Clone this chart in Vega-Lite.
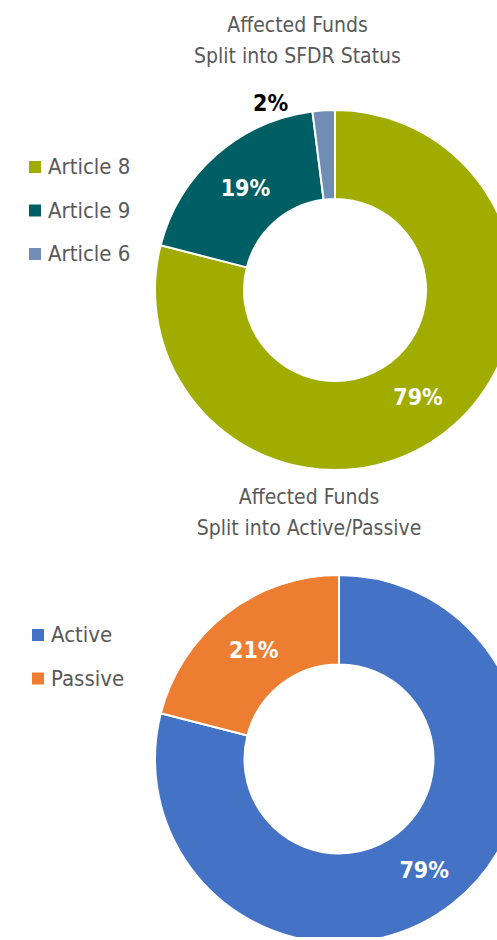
{
  "$schema": "https://vega.github.io/schema/vega-lite/v6.json",
  "background": "#ffffff",
  "padding": {"left": 0, "top": 15, "right": 0, "bottom": 0},
  "spacing": 16,
  "config": {
    "view": {"stroke": null},
    "font": "DejaVu Sans Condensed, sans-serif"
  },
  "resolve": {
    "scale": {"color": "independent", "theta": "independent"},
    "legend": {"color": "independent"}
  },
  "vconcat": [
    {
      "width": 497,
      "height": 400,
      "title": {
        "text": ["Affected Funds", "Split into SFDR Status"],
        "fontSize": 21,
        "lineHeight": 31,
        "font": "DejaVu Sans Condensed, sans-serif",
        "fontWeight": "normal",
        "color": "#595959",
        "anchor": "middle",
        "dx": 49,
        "offset": 4
      },
      "data": {
        "values": [
          {"status": "Article 8", "share": 79, "rank": 1, "label": "79%"},
          {"status": "Article 9", "share": 19, "rank": 2, "label": "19%"},
          {"status": "Article 6", "share": 2, "rank": 3, "label": "2%"}
        ]
      },
      "encoding": {
        "theta": {"field": "share", "type": "quantitative", "stack": true},
        "order": {"field": "rank", "type": "quantitative", "sort": "ascending"}
      },
      "layer": [
        {
          "mark": {"type": "arc", "innerRadius": 91, "outerRadius": 180, "stroke": "#ffffff", "strokeWidth": 2, "xOffset": 86.5, "yOffset": 19, "clip": true},
          "encoding": {
            "color": {
              "field": "status",
              "type": "nominal",
              "scale": {"domain": ["Article 8", "Article 9", "Article 6"], "range": ["#A0AC00", "#005F65", "#708EB3"]},
              "legend": {
                "orient": "none",
                "legendX": 24,
                "legendY": 85,
                "title": null,
                "symbolType": "square",
                "symbolSize": 144,
                "symbolStrokeWidth": 0,
                "labelFontSize": 22,
                "labelFont": "DejaVu Sans Condensed, sans-serif",
                "labelColor": "#595959",
                "labelOffset": 2,
                "rowPadding": 21.5
              }
            }
          }
        },
        {
          "mark": {"type": "text", "radius": 135.5, "xOffset": 86.5, "yOffset": 19, "dy": 1, "fontSize": 23, "fontWeight": "bold", "color": "#ffffff"},
          "encoding": {
            "text": {"condition": {"test": "datum.status === 'Article 6'", "value": ""}, "field": "label", "type": "nominal"}
          }
        },
        {
          "mark": {"type": "text", "radius": 197, "xOffset": 86.5, "yOffset": 19, "dx": -52, "dy": 11, "fontSize": 23, "fontWeight": "bold", "color": "#000000"},
          "encoding": {
            "text": {"condition": {"test": "datum.status === 'Article 6'", "field": "label", "type": "nominal"}, "value": ""}
          }
        }
      ]
    },
    {
      "width": 497,
      "height": 394,
      "title": {
        "text": ["Affected Funds", "Split into Active/Passive"],
        "fontSize": 21,
        "lineHeight": 31,
        "font": "DejaVu Sans Condensed, sans-serif",
        "fontWeight": "normal",
        "color": "#595959",
        "anchor": "middle",
        "dx": 60.5,
        "offset": 4
      },
      "data": {
        "values": [
          {"style": "Active", "share": 79, "rank": 1, "label": "79%"},
          {"style": "Passive", "share": 21, "rank": 2, "label": "21%"}
        ]
      },
      "encoding": {
        "theta": {"field": "share", "type": "quantitative", "stack": true},
        "order": {"field": "rank", "type": "quantitative", "sort": "ascending"}
      },
      "layer": [
        {
          "mark": {"type": "arc", "innerRadius": 94.5, "outerRadius": 184, "stroke": "#ffffff", "strokeWidth": 2, "xOffset": 90.5, "yOffset": 19, "clip": true},
          "encoding": {
            "color": {
              "field": "style",
              "type": "nominal",
              "scale": {"domain": ["Active", "Passive"], "range": ["#4472C4", "#ED7D31"]},
              "legend": {
                "orient": "none",
                "legendX": 27,
                "legendY": 81,
                "title": null,
                "symbolType": "square",
                "symbolSize": 144,
                "symbolStrokeWidth": 0,
                "labelFontSize": 22,
                "labelFont": "DejaVu Sans Condensed, sans-serif",
                "labelColor": "#595959",
                "labelOffset": 2,
                "rowPadding": 21.5
              }
            }
          }
        },
        {
          "mark": {"type": "text", "radius": 139, "xOffset": 90.5, "yOffset": 19, "dy": 2, "fontSize": 23, "fontWeight": "bold", "color": "#ffffff"},
          "encoding": {
            "text": {"field": "label", "type": "nominal"}
          }
        }
      ]
    }
  ]
}
